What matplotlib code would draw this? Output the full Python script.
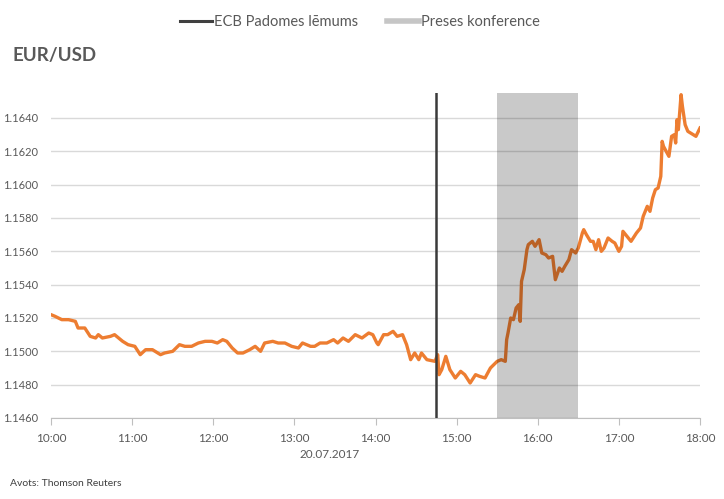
import matplotlib
matplotlib.use("Agg")
import matplotlib.pyplot as plt
from matplotlib.lines import Line2D
from matplotlib.ticker import FormatStrFormatter

plt.rcParams['font.family'] = ['Lato', 'DejaVu Sans']

# minutes after 10:00 on 20.07.2017
minutes = [0, 3, 8, 13, 18, 20, 25, 29, 33, 35, 38, 44, 47, 53, 57, 62, 66, 70, 75, 81,
           84, 90, 95, 99, 104, 109, 114, 119, 123, 127, 130, 134, 138, 142, 147, 151, 155, 158, 164, 168,
           173, 178, 183, 186, 192, 195, 199, 204, 209, 212, 216, 220, 225, 230, 235, 238, 241, 242, 246, 249,
           253, 256, 260, 263, 266, 269, 272, 274, 278, 284, 286, 287, 289, 292, 295, 299, 303, 306, 310, 314,
           317, 321, 325, 330, 333, 336, 337, 338, 340, 342, 344, 346, 347, 348, 350, 352, 353, 356, 358, 361,
           363, 366, 368, 371, 373, 376, 378, 380, 383, 385, 388, 390, 393, 394, 396, 399, 401, 403, 405, 407,
           409, 412, 415, 417, 420, 422, 423, 426, 429, 433, 436, 438, 441, 443, 445, 447, 449, 451, 452, 453,
           457, 459, 461, 462, 463, 464, 466, 467, 469, 471, 475, 477, 480]
eurusd = [1.1522, 1.1521, 1.1519, 1.1519, 1.1518, 1.1514, 1.1514, 1.1509, 1.1508, 1.1510,
          1.1508, 1.1509, 1.1510, 1.1506, 1.1504, 1.1503, 1.1498, 1.1501, 1.1501, 1.1498,
          1.1499, 1.1500, 1.1504, 1.1503, 1.1503, 1.1505, 1.1506, 1.1506, 1.1505, 1.1507,
          1.1506, 1.1502, 1.1499, 1.1499, 1.1501, 1.1503, 1.1500, 1.1505, 1.1506, 1.1505,
          1.1505, 1.1503, 1.1502, 1.1505, 1.1503, 1.1503, 1.1505, 1.1505, 1.1507, 1.1505,
          1.1508, 1.1506, 1.1510, 1.1508, 1.1511, 1.1510, 1.1505, 1.1504, 1.1510, 1.1510,
          1.1512, 1.1509, 1.1510, 1.1504, 1.1495, 1.1499, 1.1495, 1.1499, 1.1495, 1.1494,
          1.1498, 1.1486, 1.1489, 1.1497, 1.1489, 1.1484, 1.1488, 1.1486, 1.1481, 1.1486,
          1.1485, 1.1484, 1.1490, 1.1494, 1.1495, 1.1494, 1.1507, 1.1511, 1.1520, 1.1519,
          1.1526, 1.1528, 1.1518, 1.1542, 1.1549, 1.1561, 1.1564, 1.1566, 1.1563, 1.1567,
          1.1559, 1.1558, 1.1556, 1.1557, 1.1543, 1.1550, 1.1548, 1.1551, 1.1555, 1.1561,
          1.1559, 1.1562, 1.1571, 1.1573, 1.1570, 1.1566, 1.1566, 1.1561, 1.1567, 1.1560,
          1.1562, 1.1568, 1.1566, 1.1565, 1.1560, 1.1563, 1.1572, 1.1569, 1.1566, 1.1571,
          1.1574, 1.1581, 1.1587, 1.1584, 1.1592, 1.1597, 1.1598, 1.1605, 1.1626, 1.1623,
          1.1617, 1.1629, 1.1630, 1.1625, 1.1639, 1.1633, 1.1654, 1.1647, 1.1636, 1.1632,
          1.1630, 1.1629, 1.1634]

hour_ticks = [0, 60, 120, 180, 240, 300, 360, 420, 480]
hour_labels = ['10:00', '11:00', '12:00', '13:00', '14:00', '15:00', '16:00', '17:00', '18:00']
y_ticks = [1.1460, 1.1480, 1.1500, 1.1520, 1.1540, 1.1560, 1.1580, 1.1600, 1.1620, 1.1640]

ecb_decision = 285          # 14:45
press_conf = (330, 390)     # 15:30 - 16:30

ORANGE = '#ED7D31'
TXT = '#595959'

fig = plt.figure(figsize=(7.24, 4.99), dpi=100)
ax = fig.add_axes([51/724, 81/499, 649/724, 325/499])

ax.plot(minutes, eurusd, color=ORANGE, lw=2.4, zorder=3, solid_joinstyle='round')
ax.axvspan(press_conf[0], press_conf[1], color='black', alpha=0.21, lw=0, zorder=4)
ax.axvline(ecb_decision, color='#3A3A3A', lw=1.8, zorder=5)

ax.set_xlim(0, 480)
ax.set_ylim(1.1460, 1.1655)
ax.set_yticks(y_ticks)
ax.yaxis.set_major_formatter(FormatStrFormatter('%.4f'))
ax.set_xticks(hour_ticks)
ax.set_xticklabels(hour_labels)
ax.grid(axis='y', color='#D9D9D9', lw=1, zorder=0)
ax.set_axisbelow(True)
for s in ['top', 'right', 'left']:
    ax.spines[s].set_visible(False)
ax.spines['bottom'].set_color('#BFBFBF')
ax.tick_params(axis='y', length=0, pad=9, labelsize=8, labelcolor=TXT)
ax.tick_params(axis='x', length=5, color='#BFBFBF', pad=6, labelsize=8.5, labelcolor=TXT)

fig.text(330/724, 1 - 455/499, '20.07.2017', ha='center', va='center', fontsize=8.5, color=TXT)
fig.text(12/724, 1 - 55/499, 'EUR/USD', ha='left', va='center', fontsize=13.5,
         fontweight='bold', color=TXT)
fig.text(10/724, 1 - 484/499, 'Avots: Thomson Reuters', ha='left', va='center', fontsize=7.5,
         color='#404040')

handles = [Line2D([], [], color='#404040', lw=2.2),
           Line2D([], [], color='#C6C6C6', lw=4)]
fig.legend(handles, ['ECB Padomes lēmums', 'Preses konference'], loc='center',
           bbox_to_anchor=(360/724, 1 - 22/499), ncol=2, frameon=False, fontsize=10.5,
           handlelength=2.2, handletextpad=0.1, columnspacing=2.0, labelcolor=TXT)

fig.savefig('out.png', dpi=100)
